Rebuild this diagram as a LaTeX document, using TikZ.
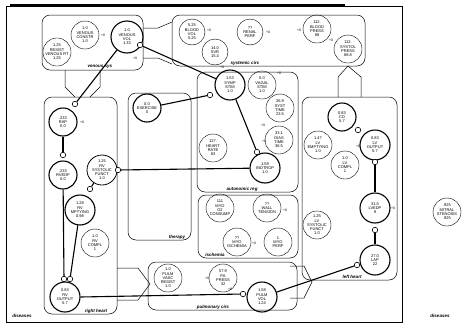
\documentclass[tikz,border=0pt]{standalone}
\usepackage{fontspec}
\setmainfont{Liberation Sans}
\begin{document}
\begin{tikzpicture}[x=1pt,y=-1pt,
  nd/.style={circle,draw,inner sep=0pt,align=center,font=\fontsize{4}{4.3}\selectfont},
  thk/.style={nd,line width=1.1pt,minimum size=30pt},
  thn/.style={nd,line width=0.4pt,minimum size=28pt},
  jn/.style={circle,draw,line width=0.6pt,minimum size=5.5pt,inner sep=0pt,fill=white,path picture={\fill (path picture bounding box.center) circle (0.8pt);}},
  grp/.style={draw,rounded corners=8pt,line width=0.5pt},
  glab/.style={font=\fontsize{4.5}{5}\selectfont\bfseries\itshape,inner sep=0.5pt},
  link/.style={line width=1.1pt},
  pipe/.style={line width=0.5pt},
  tk/.style={font=\fontsize{3.4}{3.6}\selectfont,inner sep=0pt}
]
\useasboundingbox (0,0) rectangle (469,327);
% frame
\draw[line width=0.8pt] (6,6) rectangle (402,322);
\draw[line width=1.4pt] (10,5) -- (345,5);
\node[glab] (dis1) at (22,316) {diseases};
\node[glab] (dis2) at (440,316) {diseases};
% groups
\draw[grp] (42,15) rectangle (143,70);
\node[glab] (lven) at (100,67) {venous sys};
\draw[grp] (172,15) rectangle (365,66);
\node[glab] (lsys) at (245,63) {systemic circ};
\draw[grp] (44,97) rectangle (117,314);
\node[glab] (lrh) at (96,311) {right heart};
\draw[grp] (128,93) rectangle (191,240);
\node[glab] (lthe) at (177,237) {therapy};
\draw[grp] (197,72) rectangle (298,192);
\node[glab] (laut) at (242,189) {autonomic reg};
\draw[grp] (198,195) rectangle (298,258);
\node[glab] (lisc) at (215,255) {ischemia};
\draw[grp] (148,262) rectangle (297,310);
\node[glab] (lpul) at (213,307) {pulmonary circ};
\draw[grp] (302,97) rectangle (397,280);
\node[glab] (llh) at (352,277) {left heart};
% pipes between groups
\draw[pipe] (65,70) -- (65,87) -- (75,97);
\draw[pipe] (100,70) -- (100,87) -- (90,97);
\draw[pipe] (338,97) -- (338,77) -- (348,66) -- (361,77) -- (361,97);
\draw[pipe] (117,268) -- (138,268) -- (150,284) -- (138,300) -- (117,300);
\draw[pipe] (290,266) -- (304,266) -- (312,282) -- (304,298) -- (290,298);
\draw[pipe] (143,28) -- (158,28) -- (172,22);
\draw[pipe] (143,58) -- (158,58) -- (172,64);
% venous sys
\node[thn] (vc) at (85,35) {1.0\\VENOUS\\CONSTR\\1.0};
\node[thk,minimum size=32pt] (vv) at (127,37) {1.0\\VENOUS\\VOL\\1.33};
\node[thn] (rvr) at (57,52) {1.25\\RESIST\\VENOUS RT\\1.25};
% systemic circ
\node[thn,minimum size=26pt] (bv) at (192,32) {5.25\\BLOOD\\VOL\\5.25};
\node[thn,minimum size=26pt] (svr) at (215,52) {14.0\\SVR\\15.4};
\node[thn,minimum size=26pt] (rp) at (250,32) {??\\RENAL\\PERF};
\node[thn] (bp) at (317,29) {112.\\BLOOD\\PRESS\\88};
\node[thn] (sp) at (348,49) {112.\\SYSTOL\\PRESS\\88.8};
% right heart
\node[thk,minimum size=28pt] (rap) at (63,122) {.233\\RAP\\0.0};
\node[thk,minimum size=28pt] (rvedp) at (63,175) {.233\\RVEDP\\0.0};
\node[nd,line width=0.8pt,minimum size=30pt] (rvsf) at (102,170) {1.25\\RV\\SYSTOLIC\\FUNCT\\1.0};
\node[thk] (rve) at (80,210) {1.28\\RV\\MPTYING\\0.98};
\node[thn] (rvc) at (95,243) {1.0\\RV\\COMPL\\1};
\node[thk] (rvo) at (65,297) {0.83\\RV\\OUTPUT\\5.7};
% therapy
\node[thk,minimum size=28pt] (ex) at (147,108) {0.0\\EXERCISE\\0};
% autonomic reg
\node[thk] (ss) at (230,85) {1.53\\SYMP\\STIM\\1.0};
\node[thn] (vs) at (262,85) {0.0\\VAGAL\\STIM\\1.0};
\node[thn] (st) at (280,108) {26.9\\SYST\\TIME\\23.5};
\node[thn] (dt) at (279,140) {33.1\\DIAS\\TIME\\36.5};
\node[thn] (hr) at (213,148) {127.\\HEART\\RATE\\83};
\node[thk] (ino) at (265,168) {1.59\\INOTROP\\1.0};
% ischemia
\node[thn] (mo) at (220,208) {111\\MYO\\O2\\CONSUMP};
\node[thn] (wt) at (267,208) {??\\WALL\\TENSION};
\node[thn] (mi) at (237,242) {??\\MYO\\ISCHEMIA};
\node[thn] (mp) at (278,242) {1\\MYO\\PERF};
% pulmonary circ
\node[thn] (pvr) at (168,278) {1.0\\PULM\\VASC\\RESIST\\1.0};
\node[thn] (pa) at (223,278) {57.9\\PA\\PRESS\\32};
\node[thk] (pv) at (262,297) {1.58\\PULM\\VOL\\1.24};
% left heart
\node[thk,minimum size=28pt] (co) at (342,117) {0.83\\CO\\5.7};
\node[thk] (lvo) at (375,145) {0.83\\LV\\OUTPUT\\5.7};
\node[thn] (lve) at (318,145) {1.47\\LV\\EMPTYING\\1.0};
\node[thn] (lvc) at (345,165) {1.0\\LV\\COMPL\\1};
\node[thk] (lvedp) at (375,208) {31.5\\LVEDP\\9};
\node[thn] (lvsf) at (317,225) {1.25\\LV\\SYSTOLIC\\FUNCT\\1.0};
\node[thk] (lap) at (375,260) {27.0\\LAP\\22};
% disease
\node[thn] (ms) at (447,212) {.925\\MITRAL\\STENOSIS\\.925};
% junctions
\node[jn] (j1) at (75,104) {};
\node[jn] (j2) at (140,45) {};
\node[jn] (j3) at (210,95) {};
\node[jn] (j4) at (257,152) {};
\node[jn] (j5) at (118,170) {};
\node[jn] (j6) at (63,155) {};
\node[jn] (j7) at (90,189) {};
\node[jn] (j8) at (64,279) {};
\node[jn] (j9) at (70,279) {};
\node[jn] (j10) at (243,294) {};
\node[jn] (j11) at (357,265) {};
\node[jn] (j12) at (375,230) {};
\node[jn] (j13) at (375,162) {};
\node[jn] (j14) at (358,130) {};
% links
\draw[link] (vv) -- (j1);
\draw[link] (ss) -- (j2);
\draw[link] (ex) -- (j3);
\draw[link] (ss) -- (j4);
\draw[link] (j5) -- (ino);
\draw[link] (rap) -- (j6);
\draw[link] (rvsf) -- (j7);
\draw[link] (rvedp) -- (j8);
\draw[link] (rve) -- (j9);
\draw[link] (rvo.east) -- (j10);
\draw[link] (pv) -- (j11);
\draw[link] (lap) -- (j12);
\draw[link] (lvedp) -- (j13);
% small tick marks
\node[tk] (t1) at (103,35) {+0};
\node[tk] (t2) at (135,58) {+0};
\node[tk] (t3) at (209,30) {+0};
\node[tk] (t4) at (268,32) {+0};
\node[tk] (t5) at (299,30) {+0};
\node[tk] (t6) at (331,40) {+0};
\node[tk] (t7) at (222,67) {+0};
\node[tk] (t8) at (279,73) {+0};
\node[tk] (t9) at (263,125) {+0};
\node[tk] (t10) at (264,141) {+0};
\node[tk] (t11) at (82,122) {+0};
\node[tk] (t12) at (358,146) {+0};
\node[tk] (t13) at (393,208) {+0};
\node[tk] (t14) at (230,289) {+0};
\node[tk] (t15) at (207,278) {+0};
\node[tk] (t16) at (285,210) {+0};
\node[tk] (t17) at (254,243) {+0};
\end{tikzpicture}
\end{document}
